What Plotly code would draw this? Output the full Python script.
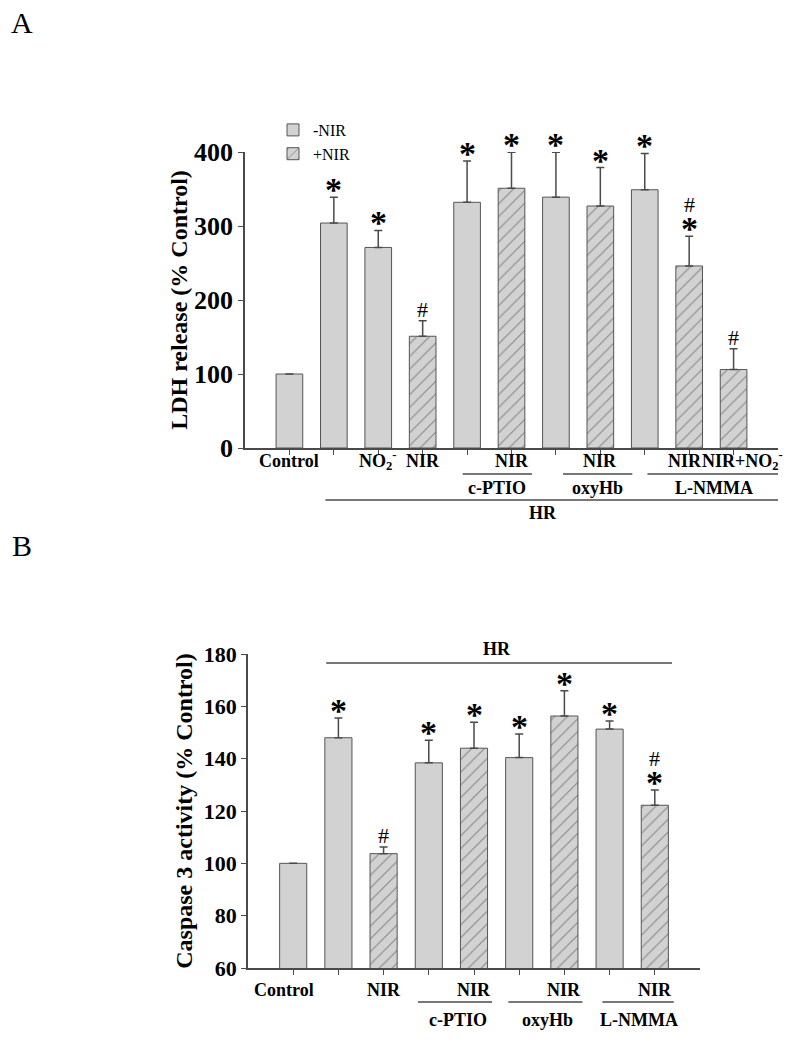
import plotly.graph_objects as go

# page body adds an 8px margin; size the figure so the page fills 799x1043 exactly
OFF = 8
W, H = 799 - 2 * OFF, 1043 - 2 * OFF

# ---------------- Data ----------------
# Panel A: LDH release (% Control)
catsA = ["Control", "HR", "HR+NO2-", "HR+NIR", "HR+c-PTIO", "HR+c-PTIO+NIR",
         "HR+oxyHb", "HR+oxyHb+NIR", "HR+L-NMMA", "HR+L-NMMA+NIR", "HR+L-NMMA+NIR+NO2-"]
valsA = [100, 304, 271, 151, 332, 351, 339, 327, 349, 246, 106]
errA = [0, 35, 23, 21, 56, 48.5, 60.5, 52, 49, 40, 28]
nirA = [False, False, False, True, False, True, False, True, False, True, True]
sigA = ["", "*", "*", "#", "*", "*", "*", "*", "*", "#*", "#"]

# Panel B: Caspase 3 activity (% Control)
catsB = ["Control", "HR", "HR+NIR", "HR+c-PTIO", "HR+c-PTIO+NIR",
         "HR+oxyHb", "HR+oxyHb+NIR", "HR+L-NMMA", "HR+L-NMMA+NIR"]
valsB = [100, 148, 103.7, 138.4, 144, 140.4, 156.3, 151.3, 122.2]
errB = [0, 7.5, 2.5, 8.6, 9.9, 9.0, 9.7, 3.1, 5.8]
nirB = [False, False, True, False, True, False, True, False, True]
sigB = ["", "*", "#", "*", "*", "*", "*", "*", "#*"]

ticksA = [0, 100, 200, 300, 400]
ticksB = [60, 80, 100, 120, 140, 160, 180]

# ---------------- Styles ----------------
SERIF = "Liberation Serif"
FILL = "#d2d2d2"
EDGE = "#555555"
AXC = "#4a4a4a"


def px2px(x):
    return (x - OFF) / W


def py2p(y):
    return 1 - (y - OFF) / H


fig = go.Figure()


def add_bars(vals, errs, nir, xa, ya, showlegend):
    for flag, name in [(False, "-NIR"), (True, "+NIR")]:
        idx = [i for i, f in enumerate(nir) if f == flag]
        marker = dict(color=FILL, line=dict(color=EDGE, width=1))
        if flag:
            marker["pattern"] = dict(shape="/", fgcolor="#3a3a3a", bgcolor=FILL,
                                     size=9, solidity=0.12)
        fig.add_trace(go.Bar(
            x=idx, y=[vals[i] for i in idx], name=name, width=0.6,
            marker=marker, xaxis=xa, yaxis=ya, showlegend=showlegend,
            legendrank=1 if not flag else 2,
            error_y=dict(type="data", symmetric=False,
                         array=[errs[i] for i in idx],
                         arrayminus=[0] * len(idx),
                         color=AXC, thickness=1.5, width=4),
        ))


add_bars(valsA, errA, nirA, "x", "y", True)
add_bars(valsB, errB, nirB, "x2", "y2", False)

ann = []
shapes = []


def sig_marks(vals, errs, sigs, xr, yr):
    for i, s in enumerate(sigs):
        if not s:
            continue
        top = vals[i] + errs[i]
        shift = 0
        for ch in reversed(s):
            if ch == "*":
                ann.append(dict(x=i, y=top, xref=xr, yref=yr, text="*",
                                showarrow=False, yanchor="bottom",
                                yshift=shift - 13,
                                font=dict(family=SERIF, size=34, color="black",
                                          weight="bold")))
                shift += 20
            else:
                ann.append(dict(x=i, y=top, xref=xr, yref=yr, text="#",
                                showarrow=False, yanchor="bottom",
                                yshift=shift - 3,
                                font=dict(family=SERIF, size=22, color="black")))
                shift += 20


sig_marks(valsA, errA, sigA, "x", "y")
sig_marks(valsB, errB, sigB, "x2", "y2")


def label(x, ypx, text, xr, size=18):
    ann.append(dict(x=x, y=py2p(ypx), xref=xr, yref="paper", text=text,
                    showarrow=False, yanchor="middle",
                    font=dict(family=SERIF, size=size, color="black",
                              weight="bold")))


def hline(x0, x1, ypx, xr):
    shapes.append(dict(type="line", x0=x0, x1=x1, y0=py2p(ypx), y1=py2p(ypx),
                       xref=xr, yref="paper",
                       line=dict(color=AXC, width=1.5)))


NO2 = "NO<sub>2</sub><sup>-</sup>"

# Panel A category labels
label(0, 461, "Control", "x")
label(2, 461, NO2, "x")
label(3, 461, "NIR", "x")
label(5, 461, "NIR", "x")
label(7, 461, "NIR", "x")
label(8.9, 461, "NIR", "x")
label(10.2, 461, "NIR+" + NO2, "x")
hline(3.9, 5.46, 474, "x")
hline(6.16, 7.72, 474, "x")
hline(8.06, 11.1, 474, "x")
label(4.67, 488, "c-PTIO", "x")
label(6.93, 488, "oxyHb", "x")
label(9.55, 488, "L-NMMA", "x")
hline(0.81, 11.1, 500, "x")
label(5.71, 513, "HR", "x")

# Panel B category labels
label(-0.2, 990, "Control", "x2")
label(2, 990, "NIR", "x2")
label(4, 990, "NIR", "x2")
label(6, 990, "NIR", "x2")
label(8, 990, "NIR", "x2")
hline(2.76, 4.4, 1002, "x2")
hline(4.76, 6.4, 1002, "x2")
hline(6.84, 8.42, 1002, "x2")
label(3.64, 1020, "c-PTIO", "x2")
label(5.62, 1020, "oxyHb", "x2")
label(7.64, 1020, "L-NMMA", "x2")
hline(0.73, 8.38, 663, "x2")
label(4.51, 649, "HR", "x2")

# Panel letters
for txt, ypx in [("A", 22), ("B", 545)]:
    ann.append(dict(x=px2px(22), y=py2p(ypx), xref="paper", yref="paper",
                    text=txt, showarrow=False, xanchor="center", yanchor="middle",
                    font=dict(family=SERIF, size=30, color="black")))

axis_common = dict(showline=True, linecolor=AXC, linewidth=1.5, ticks="outside",
                   ticklen=5, tickwidth=1.2, tickcolor=AXC, showgrid=False,
                   zeroline=False, mirror=False, automargin=False)

fig.update_layout(
    width=W, height=H,
    margin=dict(l=0, r=0, t=0, b=0, pad=0, autoexpand=False),
    paper_bgcolor="white", plot_bgcolor="white",
    barmode="overlay",
    showlegend=True,
    legend=dict(x=px2px(273), y=py2p(113), xanchor="left", yanchor="top",
                font=dict(family=SERIF, size=16, color="black"),
                bgcolor="rgba(0,0,0,0)", tracegroupgap=0, itemwidth=30),
    xaxis=dict(domain=[px2px(245), px2px(778)], range=[-1, 11],
               tickvals=list(range(len(catsA))), showticklabels=False,
               anchor="y", **axis_common),
    yaxis=dict(domain=[py2p(448), py2p(152)], range=[0, 400],
               tickvals=ticksA, anchor="x",
               tickfont=dict(family=SERIF, size=26, color="black", weight="bold"),
               title=dict(text="LDH release (% Control)", standoff=0,
                          font=dict(family=SERIF, size=24, color="black",
                                    weight="bold")),
               **axis_common),
    xaxis2=dict(domain=[px2px(248), px2px(700)], range=[-1, 9],
                tickvals=list(range(len(catsB))), showticklabels=False,
                anchor="y2", **axis_common),
    yaxis2=dict(domain=[py2p(968), py2p(654)], range=[60, 180],
                tickvals=ticksB, anchor="x2",
                tickfont=dict(family=SERIF, size=22, color="black", weight="bold"),
                title=dict(text="Caspase 3 activity (% Control)", standoff=4,
                           font=dict(family=SERIF, size=24, color="black",
                                     weight="bold")),
                **axis_common),
    annotations=ann,
    shapes=shapes,
)

fig.write_html("out.html")
